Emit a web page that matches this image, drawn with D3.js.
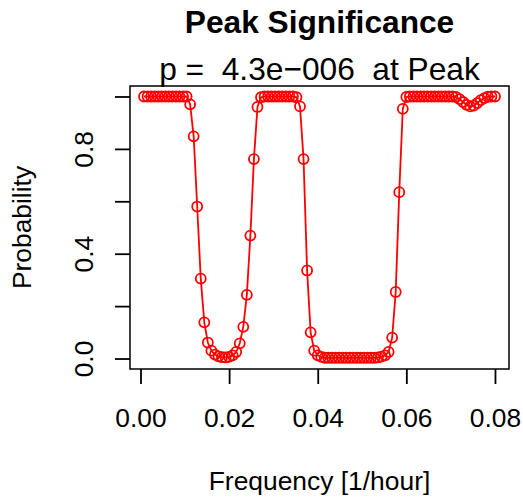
<!DOCTYPE html>
<html>
<head>
<meta charset="utf-8">
<script src="https://cdn.jsdelivr.net/npm/d3@7"></script>
<style>
    body { margin: 0; background: #fff; }
    svg { display: block; }
</style>
</head>
<body>
<svg id="chart" width="523" height="497"></svg>
<script>
// frequencies [1/hour]
var frequency = [
    0.0008, 0.0016, 0.0024, 0.0032, 0.0040, 0.0048, 0.0056, 0.0064, 0.0072, 0.0080,
    0.0088, 0.0096, 0.0104, 0.0112, 0.0120, 0.0128, 0.0136, 0.0144, 0.0152, 0.0160,
    0.0168, 0.0176, 0.0184, 0.0192, 0.0200, 0.0208, 0.0216, 0.0224, 0.0232, 0.0240,
    0.0248, 0.0256, 0.0264, 0.0272, 0.0280, 0.0288, 0.0296, 0.0304, 0.0312, 0.0320,
    0.0328, 0.0336, 0.0344, 0.0352, 0.0360, 0.0368, 0.0376, 0.0384, 0.0392, 0.0400,
    0.0408, 0.0416, 0.0424, 0.0432, 0.0440, 0.0448, 0.0456, 0.0464, 0.0472, 0.0480,
    0.0488, 0.0496, 0.0504, 0.0512, 0.0520, 0.0528, 0.0536, 0.0544, 0.0552, 0.0560,
    0.0568, 0.0576, 0.0584, 0.0592, 0.0600, 0.0608, 0.0616, 0.0624, 0.0632, 0.0640,
    0.0648, 0.0656, 0.0664, 0.0672, 0.0680, 0.0688, 0.0696, 0.0704, 0.0712, 0.0720,
    0.0728, 0.0736, 0.0744, 0.0752, 0.0760, 0.0768, 0.0776, 0.0784, 0.0792, 0.0800
];

// probability
var probability = [
    1.000, 1.000, 1.000, 1.000, 1.000, 1.000, 1.000, 1.000, 1.000, 1.000,
    1.000, 1.000, 1.000, 0.970, 0.848, 0.580, 0.305, 0.138, 0.061, 0.030,
    0.015, 0.008, 0.005, 0.004, 0.006, 0.012, 0.025, 0.058, 0.121, 0.243,
    0.469, 0.761, 0.960, 0.997, 1.000, 1.000, 1.000, 1.000, 1.000, 1.000,
    1.000, 1.000, 1.000, 0.997, 0.962, 0.761, 0.336, 0.100, 0.030, 0.012,
    0.006, 0.003, 0.003, 0.003, 0.003, 0.003, 0.003, 0.003, 0.003, 0.003,
    0.003, 0.003, 0.003, 0.003, 0.003, 0.003, 0.004, 0.007, 0.012, 0.025,
    0.080, 0.254, 0.635, 0.953, 0.998, 1.000, 1.000, 1.000, 1.000, 1.000,
    1.000, 1.000, 1.000, 1.000, 1.000, 1.000, 1.000, 1.000, 0.998, 0.990,
    0.979, 0.968, 0.962, 0.965, 0.975, 0.986, 0.994, 0.999, 1.000, 1.000
];

var xTicks = [0.00, 0.02, 0.04, 0.06, 0.08];
var yTicks = [0.0, 0.2, 0.4, 0.6, 0.8, 1.0];
var yLabels = [0.0, 0.4, 0.8];

var mainTitle = "Peak Significance";
var subTitle = "p =  4.3e\u2212006  at Peak";
var xTitle = "Frequency [1/hour]";
var yTitle = "Probability";

const drawChart = (d3, svg) =>
{
    svg.selectAll('*').remove();

    var box = getBox();
    var font = "'Liberation Sans', Arial, Helvetica, sans-serif";

    // R style 4% padding round the data range
    var x = d3.scaleLinear()
        .domain(padRange(d3.extent(frequency)))
        .range([box.left, box.right]);
    var y = d3.scaleLinear()
        .domain(padRange([0, 1]))
        .range([box.bottom, box.top]);

    var points = frequency.map((f, i) => [f, probability[i]]);

    // series
    svg.append("path")
        .datum(points)
        .attr("fill", "none")
        .attr("stroke", getColor())
        .attr("stroke-width", 1.8)
        .attr("d", d3.line().x(d => x(d[0])).y(d => y(d[1])));

    svg.append("g")
        .attr("fill", "none")
        .attr("stroke", getColor())
        .attr("stroke-width", 1.8)
        .selectAll("circle")
        .data(points)
        .enter().append("circle")
        .attr("cx", d => x(d[0]))
        .attr("cy", d => y(d[1]))
        .attr("r", 5);

    // box
    svg.append("rect")
        .attr("x", box.left)
        .attr("y", box.top)
        .attr("width", box.right - box.left)
        .attr("height", box.bottom - box.top)
        .attr("fill", "none")
        .attr("stroke", "#000")
        .attr("stroke-width", 1.5);

    // x axis
    var xAxis = svg.append("g")
        .attr("transform", `translate(0,${box.bottom})`)
        .call(d3.axisBottom(x).tickValues(xTicks).tickSize(15).tickPadding(10).tickFormat(d3.format(".2f")));
    styleAxis(xAxis, font);
    xAxis.selectAll("text").attr("y", 58).attr("dy", null);

    // y axis, labels only where R has room for them
    var yAxis = svg.append("g")
        .attr("transform", `translate(${box.left},0)`)
        .call(d3.axisLeft(y).tickValues(yTicks).tickSize(15)
            .tickFormat(d => yLabels.some(v => Math.abs(v - d) < 1e-9) ? d3.format(".1f")(d) : ""));
    styleAxis(yAxis, font);
    yAxis.selectAll("text")
        .attr("x", null)
        .attr("dy", null)
        .attr("text-anchor", "middle")
        .attr("transform", "translate(-37,0) rotate(-90)");

    // titles
    svg.append("text")
        .attr("x", (box.left + box.right) / 2)
        .attr("y", 33)
        .attr("text-anchor", "middle")
        .attr("font-family", font)
        .attr("font-weight", "bold")
        .attr("font-size", 31.7)
        .text(mainTitle);

    svg.append("text")
        .attr("x", (box.left + box.right) / 2)
        .attr("y", 80)
        .attr("text-anchor", "middle")
        .attr("font-family", font)
        .attr("font-size", 31.7)
        .style("white-space", "pre")
        .text(subTitle);

    svg.append("text")
        .attr("x", (box.left + box.right) / 2)
        .attr("y", 490)
        .attr("text-anchor", "middle")
        .attr("font-family", font)
        .attr("font-size", 26.4)
        .text(xTitle);

    svg.append("text")
        .attr("transform", `translate(31,${(box.top + box.bottom) / 2}) rotate(-90)`)
        .attr("text-anchor", "middle")
        .attr("font-family", font)
        .attr("font-size", 26.4)
        .text(yTitle);
};

function styleAxis(g, font)
{
    g.select(".domain").remove();
    g.selectAll("line").attr("stroke", "#000").attr("stroke-width", 1.8);
    g.selectAll("text")
        .attr("fill", "#000")
        .attr("font-family", font)
        .attr("font-size", 26.4);
}

function padRange(r)
{
    var d = (r[1] - r[0]) * 0.04;
    return [r[0] - d, r[1] + d];
}

function getBox()
{
    return { left: 130, right: 509, top: 86, bottom: 369 };
}

function getColor()
{
    return "#ff0000";
}

drawChart(d3, d3.select("#chart"));
</script>
</body>
</html>
